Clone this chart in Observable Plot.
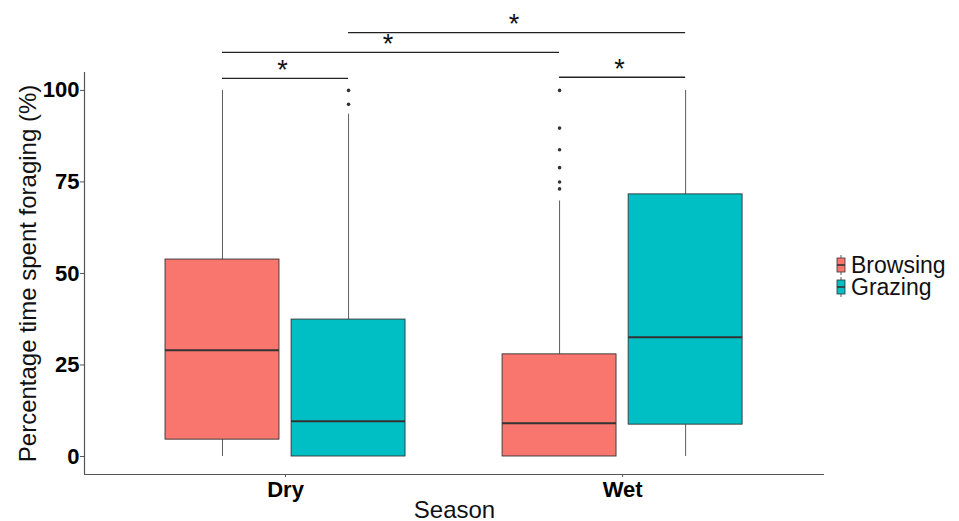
<!DOCTYPE html>
<html>
<head>
<meta charset="utf-8">
<script src="https://cdn.jsdelivr.net/npm/d3@7"></script>
<script src="https://cdn.jsdelivr.net/npm/@observablehq/plot@0.6"></script>
<style>
  body { margin: 0; background: white; font-family: "Liberation Sans", Arial, sans-serif; }
  #wrap { position: relative; width: 959px; height: 521px; }
  #legend { position: absolute; left: 834px; top: 254px; font-size: 23px; line-height: 22px; color: #111; }
  .row { display: flex; align-items: center; height: 22px; }
  .row svg { margin-right: 3px; flex: none; }
  .row span { display: inline-block; line-height: 20px; height: 20px; overflow: visible; }
</style>
</head>
<body>
<div id="wrap"><div id="legend"></div></div>
<script>
// ---- data ----
const seasons = ["Dry", "Wet"];
const groups = ["Browsing", "Grazing"];
const colors = ["#F8766D", "#00BFC4"];

const boxSeason = ["Dry", "Dry", "Wet", "Wet"];
const boxGroup = ["Browsing", "Grazing", "Browsing", "Grazing"];
const whiskerLow = [0, 0, 0, 0];
const q1 = [4.6, 0, 0, 8.7];
const medians = [29.0, 9.6, 9.1, 32.6];
const q3 = [53.8, 37.4, 27.9, 71.6];
const whiskerHigh = [100, 93.5, 69.8, 100];

const outlierSeason = ["Dry", "Dry", "Wet", "Wet", "Wet", "Wet", "Wet", "Wet"];
const outlierGroup = ["Grazing", "Grazing", "Browsing", "Browsing", "Browsing", "Browsing", "Browsing", "Browsing"];
const outlierValue = [100, 96.2, 100, 89.7, 83.8, 78.9, 75.0, 73.1];

const bracketFromSeason = ["Dry", "Dry", "Dry", "Wet"];
const bracketFromGroup = ["Browsing", "Browsing", "Grazing", "Browsing"];
const bracketToSeason = ["Dry", "Wet", "Wet", "Wet"];
const bracketToGroup = ["Grazing", "Browsing", "Grazing", "Grazing"];
const bracketHeight = [103.3, 110.4, 115.8, 103.6];
const bracketLabel = ["*", "*", "*", "*"];

const yTicks = [0, 25, 50, 75, 100];

// ---- build tables ----
const offset = 0.187, halfWidth = 0.169;
const pos = (s, g) => seasons.indexOf(s) + 1 + (g === groups[0] ? -offset : offset);
const boxes = boxSeason.map((s, i) => ({
  season: s, group: boxGroup[i], x: pos(s, boxGroup[i]),
  low: whiskerLow[i], q1: q1[i], med: medians[i], q3: q3[i], high: whiskerHigh[i]
}));
const outliers = outlierSeason.map((s, i) => ({ x: pos(s, outlierGroup[i]), y: outlierValue[i] }));
const brackets = bracketHeight.map((h, i) => ({
  x1: pos(bracketFromSeason[i], bracketFromGroup[i]),
  x2: pos(bracketToSeason[i], bracketToGroup[i]),
  y: h, label: bracketLabel[i]
}));

const xDomain = [0.4036, 2.599];
const yDomain = [-4.92, 119.1];
const yAxisTop = 104.9;

const chart = Plot.plot({
  width: 959, height: 521,
  marginLeft: 84, marginRight: 135, marginTop: 20, marginBottom: 47,
  style: { fontFamily: "Liberation Sans, Arial, sans-serif", background: "white" },
  x: { domain: xDomain },
  y: { domain: yDomain },
  color: { domain: groups, range: colors },
  marks: [
    Plot.axisY({ ticks: yTicks, tickSize: 4, tickPadding: 1, fontSize: 22, fontWeight: "bold", label: null }),
    Plot.axisX({ ticks: [1, 2], tickFormat: d => seasons[d - 1], tickSize: 3, tickPadding: 4, fontSize: 22, fontWeight: "bold", label: null }),
    Plot.ruleX([xDomain[0]], { y1: yDomain[0], y2: yAxisTop, stroke: "#555", strokeWidth: 1.2 }),
    Plot.ruleY([yDomain[0]], { x1: xDomain[0], x2: xDomain[1], stroke: "#555", strokeWidth: 1.2 }),
    // whiskers
    Plot.ruleX(boxes, { x: "x", y1: "low", y2: "q1", stroke: "#333", strokeWidth: 0.8 }),
    Plot.ruleX(boxes, { x: "x", y1: "q3", y2: "high", stroke: "#333", strokeWidth: 0.8 }),
    // boxes
    Plot.rect(boxes, { x1: d => d.x - halfWidth, x2: d => d.x + halfWidth, y1: "q1", y2: "q3", fill: "group", stroke: "#333", strokeWidth: 0.9 }),
    Plot.ruleY(boxes, { x1: d => d.x - halfWidth, x2: d => d.x + halfWidth, y: "med", stroke: "#333", strokeWidth: 2 }),
    // outliers
    Plot.dot(outliers, { x: "x", y: "y", r: 1.8, fill: "#333", stroke: null }),
    // significance brackets
    Plot.ruleY(brackets, { x1: "x1", x2: "x2", y: "y", stroke: "#222", strokeWidth: 1.4 }),
    Plot.text(brackets, { x: d => (d.x1 + d.x2) / 2, y: "y", text: "label", dx: -3, dy: -8, fontSize: 27, fill: "#111" }),
    // axis titles
    Plot.text(["Season"], { frameAnchor: "bottom", lineAnchor: "bottom", dy: 43, fontSize: 24, fill: "#111" }),
    Plot.text(["Percentage time spent foraging (%)"], { x: xDomain[0], y: 50, dx: -56, rotate: -90, fontSize: 24, fill: "#111" })
  ]
});

// axis styling
d3.select(chart).selectAll('[aria-label="y-axis tick"], [aria-label="x-axis tick"]').attr("stroke", "#555");
d3.select(chart).selectAll('[aria-label="y-axis tick label"], [aria-label="x-axis tick label"]').attr("fill", "black");

document.getElementById("wrap").prepend(chart);

// legend
const legend = document.getElementById("legend");
groups.forEach((g, i) => {
  const row = document.createElement("div");
  row.className = "row";
  row.innerHTML = `<svg width="14" height="22"><line x1="7" x2="7" y1="1" y2="21" stroke="#333" stroke-width="0.8"/><rect x="3" y="4" width="8" height="14" fill="${colors[i]}" stroke="#333" stroke-width="0.8"/><line x1="3" x2="11" y1="11" y2="11" stroke="#333" stroke-width="1.6"/></svg><span>${g}</span>`;
  legend.appendChild(row);
});
</script>
</body>
</html>
